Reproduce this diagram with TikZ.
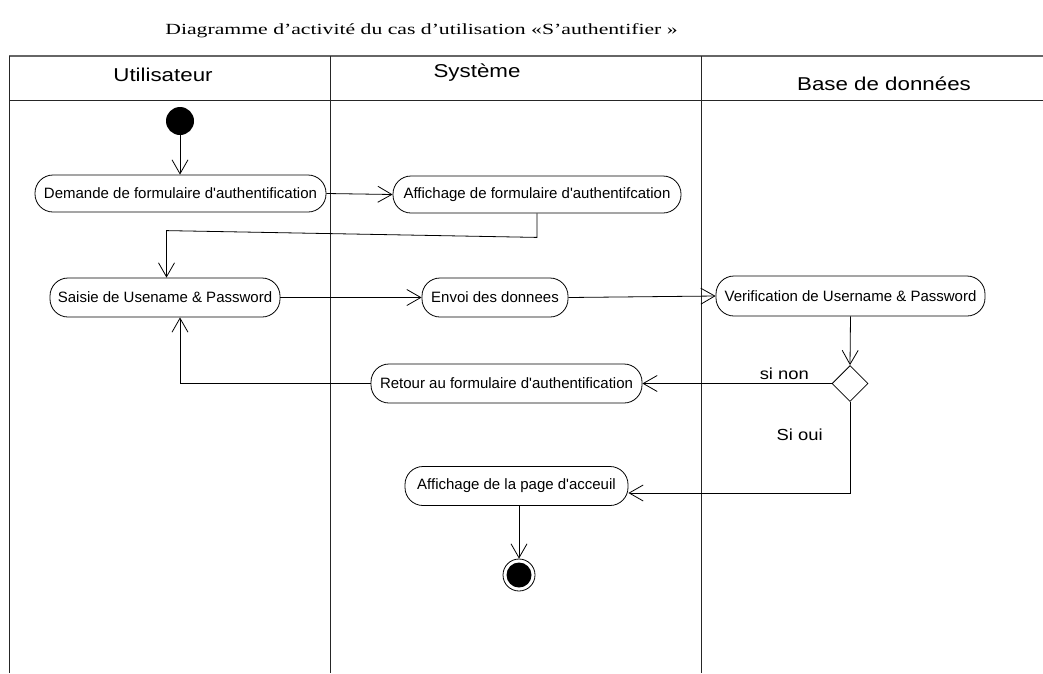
\documentclass[tikz,border=0pt]{standalone}
\usepackage{fontspec}
\setmainfont{Liberation Sans}[Ligatures=TeXOff]
\newfontfamily\titlefont{Liberation Serif}
\usetikzlibrary{arrows.meta,shapes.geometric,calc}
\begin{document}
\begin{tikzpicture}[x=1pt,y=-1pt,
  act/.style={draw,rounded corners=18pt,font=\fontsize{15}{17}\selectfont,inner sep=0pt,line width=0.8pt},
  arr/.style={draw,line width=0.8pt,-{Straight Barb[length=14pt,width=16pt]}},
  lane/.style={line width=0.9pt,draw=black!85},
  hdr/.style={font=\fontsize{18.6}{22}\selectfont,inner sep=0pt},
  lbl/.style={font=\fontsize{16}{18}\selectfont,inner sep=0pt}]
\useasboundingbox (0,0) rectangle (1043,673);
% title
\node[font=\titlefont\fontsize{15.5}{18}\selectfont,inner sep=0pt] (title) at (421.5,31)
  {\scalebox{1.4}[1]{Diagramme d’activité du cas d’utilisation «S’authentifier »}};
% swimlanes
\draw[line width=1.6pt,draw=black!60] (9,56) -- (1043,56);
\draw[lane] (9,100) -- (1043,100);
\draw[lane] (9,56) -- (9,673);
\draw[lane] (330,56) -- (330,673);
\draw[lane] (701,56) -- (701,673);
\node[hdr] (h1) at (163,75) {\scalebox{1.2}[1]{Utilisateur}};
\node[hdr] (h2) at (477,73) {\scalebox{1.2}[1]{Système}};
\node[hdr] (h3) at (884,84) {\scalebox{1.2}[1]{Base de données}};
% nodes
\node[circle,fill=black,minimum size=28pt,inner sep=0pt] (init) at (180,121) {};
\node[act,minimum width=291pt,minimum height=37pt] (demande) at (180.5,193.5) {Demande de formulaire d'authentification};
\node[act,minimum width=288pt,minimum height=37pt] (affform) at (537,194.5) {Affichage de formulaire d'authentifcation};
\node[act,minimum width=230pt,minimum height=39pt] (saisie) at (165,297.5) {Saisie de Usename \& Password};
\node[act,minimum width=146pt,minimum height=39pt] (envoi) at (495,297.5) {Envoi des donnees};
\node[act,minimum width=269pt,minimum height=40pt] (verif) at (850.5,296) {Verification de Username \& Password};
\node[diamond,draw,line width=0.8pt,minimum width=36pt,minimum height=36pt,inner sep=0pt] (dec) at (850,383.5) {};
\node[act,minimum width=271pt,minimum height=39pt] (retour) at (506.5,383.5) {Retour au formulaire d'authentification};
\node[act,minimum width=223pt,minimum height=39pt] (accueil) at (516.5,486) {Affichage de la page d'acceuil};
\node[circle,draw,line width=0.8pt,minimum size=32pt,inner sep=0pt,
  path picture={\fill (path picture bounding box.center) circle (12.5pt);}] (fin) at (519,575) {};
% connectors
\draw[arr] (init) -- (init |- demande.north);
\draw[arr] (demande.east) -- (affform.west);
\draw[arr] (affform.south) -- ++(0,24) -- ($(saisie.north)+(1.5,-47)$) -- ([xshift=1.5pt]saisie.north);
\draw[arr] (saisie.east) -- (envoi.west);
\draw[arr] (envoi.east) -- (verif.west);
\draw[arr] (verif.south) -- (dec.north);
\draw[arr] (dec.west) -- node[lbl,pos=0.25,above=3pt] (sinon) {\scalebox{1.15}[1]{si non}} (retour.east);
\draw[arr] (retour.west) -| ([xshift=15pt]saisie.south);
\draw[arr] (dec.south) |- node[lbl,pos=0.18,left=27pt] (sioui) {\scalebox{1.15}[1]{Si oui}} ([yshift=-7pt]accueil.east);
\draw[arr] (accueil.south -| fin) -- (fin.north);
\end{tikzpicture}
\end{document}
